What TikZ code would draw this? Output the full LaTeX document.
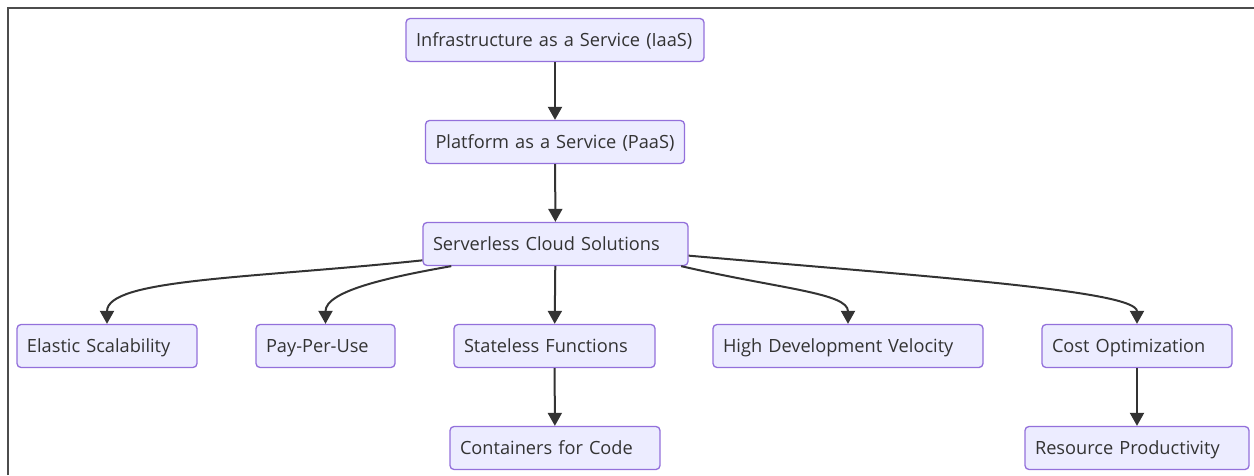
\documentclass[tikz,border=0pt]{standalone}
\usepackage{fontspec}
\setmainfont{Open Sans}
\usetikzlibrary{positioning,arrows.meta}
\definecolor{boxfill}{HTML}{ECECFF}
\definecolor{boxline}{HTML}{9370DB}
\definecolor{edge}{HTML}{333333}

\begin{document}
\begin{tikzpicture}[x=1pt,y=1pt,
  box/.style={draw=boxline,fill=boxfill,line width=1.3pt,rounded corners=4pt,
    minimum height=43pt,inner xsep=10pt,align=left,text=edge,
    text height=16pt,text depth=2.5pt,
    execute at begin node=\hbox\bgroup,execute at end node=\egroup,
    font=\fontsize{18.2}{22}\selectfont},
  arr/.style={-{Triangle[length=13pt,width=14pt]},line width=2pt,draw=edge}]
\useasboundingbox (0,0) rectangle (1254,475);
\draw[line width=1.5pt,draw=black!70] (8,0) -- (8,467) -- (1254,467);

% top chain
\node[box,text width=278pt] (iaas) at (555,435) {Infrastructure as a Service (IaaS)};
\node[box,text width=239pt] (paas) at (555,333) {Platform as a Service (PaaS)};
\node[box,text width=245pt] (srv) at (555.5,231) {Serverless Cloud Solutions};

% second row
\node[box,text width=160pt] (ela) at (107,129) {Elastic Scalability};
\node[box,text width=119pt] (ppu) at (325.5,129) {Pay-Per-Use};
\node[box,text width=181pt] (sfn) at (554.5,129) {Stateless Functions};
\node[box,text width=250pt] (hdv) at (848,129) {High Development Velocity};
\node[box,text width=170pt] (cost) at (1137,129) {Cost Optimization};

% bottom row
\node[box,text width=190pt] (cont) at (555,27) {Containers for Code};
\node[box,text width=204pt] (res) at (1137,27) {Resource Productivity};

\draw[arr] (iaas) -- (paas);
\draw[arr] (paas) -- (srv);
\draw[arr] (srv) -- (sfn);
\draw[arr] (srv.187) .. controls +(186:174) and +(90:45) .. (ela.north);
\draw[arr] (srv.192) .. controls +(190:63) and +(90:33) .. (ppu.north);
\draw[arr] (srv.350) .. controls +(-13:101) and +(90:31) .. (hdv.north);
\draw[arr] (srv.355) .. controls +(-5:247) and +(90:33) .. (cost.north);
\draw[arr] (sfn) -- (cont);
\draw[arr] (cost) -- (res);
\end{tikzpicture}
\end{document}
